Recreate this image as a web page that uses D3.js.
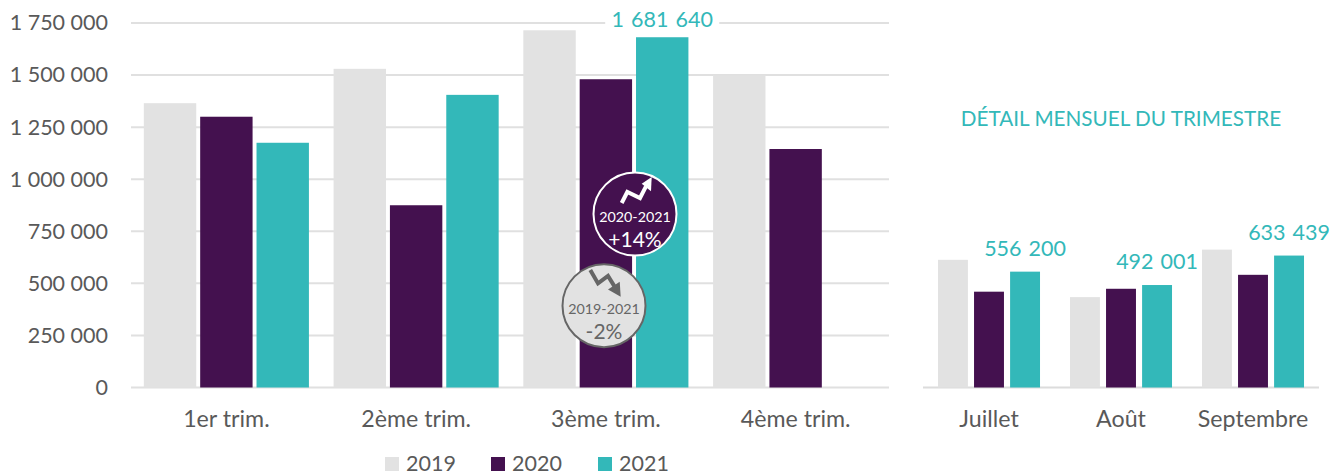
<!DOCTYPE html>
<html>
<head>
<meta charset="utf-8">
<title>Trimestres</title>
<style>
body { margin: 0; background: #fff; }
svg { display: block; font-family: Lato, "Open Sans", sans-serif; }
.axis path, .axis line { display: none; }
.axis text { fill: #595959; font-size: 23.2px; font-family: Lato, "Open Sans", sans-serif; }
.axis.yaxis text { font-size: 21.5px; }
.grid line { stroke: #e0e0e0; stroke-width: 2px; }
.baseline { stroke: #dcdcdc; stroke-width: 2px; }
.val { fill: #33b8b9; font-size: 21.5px; text-anchor: middle; word-spacing: 1.5px; }
</style>
</head>
<body>
<svg width="1330" height="473"></svg>
<script src="https://d3js.org/d3.v7.min.js"></script>
<script>
var years = ["2019", "2020", "2021"];
var colors = ["#e2e2e2", "#44114f", "#33b8b9"];

var quarters = ["1er trim.", "2ème trim.", "3ème trim.", "4ème trim."];
var q2019 = [1365000, 1530000, 1715000, 1500000];
var q2020 = [1300000, 875000, 1480000, 1145000];
var q2021 = [1175000, 1405000, 1681640, null];

var months = ["Juillet", "Août", "Septembre"];
var m2019 = [613000, 434000, 662000];
var m2020 = [460000, 474000, 541000];
var m2021 = [556200, 492001, 633439];

var yTicks = [0, 250000, 500000, 750000, 1000000, 1250000, 1500000, 1750000];

var svg = d3.select("svg");
var fr = d3.formatLocale({decimal: ",", thousands: " ", grouping: [3], currency: ["", " €"]});
var fmt = fr.format(",d");
var color = d3.scaleOrdinal().domain(years).range(colors);

// same y scale for both panels
var y = d3.scaleLinear().domain([0, 1750000]).range([387.5, 23]);

function drawBars(x0, series, inner, labelGap, labelled) {
  var x1 = d3.scaleBand().domain(years).range([0, x0.bandwidth()]).paddingInner(inner);

  var rows = x0.domain().map(function(c, i) {
    return {cat: c, vals: years.map(function(yr, j) { return {year: yr, value: series[j][i]}; })};
  });

  var grp = svg.append("g").selectAll("g")
    .data(rows)
    .enter().append("g")
      .attr("transform", function(d) { return "translate(" + x0(d.cat) + ",0)"; });

  grp.selectAll("rect")
    .data(function(d) { return d.vals.filter(function(v) { return v.value != null; }); })
    .enter().append("rect")
      .attr("x", function(d) { return x1(d.year); })
      .attr("y", function(d) { return y(d.value); })
      .attr("width", x1.bandwidth())
      .attr("height", function(d) { return y(0) - y(d.value); })
      .attr("fill", function(d) { return color(d.year); });

  // white box behind the label breaks the gridline, as in the original
  var labels = grp.selectAll("g.lab")
    .data(function(d) { return d.vals.filter(function(v) { return labelled(d.cat, v); }); })
    .enter().append("g")
      .attr("class", "lab")
      .attr("transform", function(d) {
        return "translate(" + (x1(d.year) + x1.bandwidth() / 2) + "," + (y(d.value) - labelGap) + ")";
      });

  var txt = labels.append("text")
    .attr("class", "val")
    .text(function(d) { return fmt(d.value); });

  labels.insert("rect", "text")
    .attr("x", -57)
    .attr("y", -20)
    .attr("width", 114)
    .attr("height", 26)
    .attr("fill", "#fff");

  svg.append("g")
    .attr("class", "axis")
    .attr("transform", "translate(0,387.5)")
    .call(d3.axisBottom(x0).tickSize(0).tickPadding(23));
}

// left panel
var xQ = d3.scaleBand().domain(quarters).range([131.5, 890.5]).paddingInner(0.13).paddingOuter(0.065);

svg.append("g")
  .attr("class", "grid")
  .selectAll("line")
  .data(yTicks)
  .enter().append("line")
    .attr("x1", 131)
    .attr("x2", 889)
    .attr("y1", function(d) { return y(d); })
    .attr("y2", function(d) { return y(d); });

svg.append("g")
  .attr("class", "axis yaxis")
  .attr("transform", "translate(108,0)")
  .call(d3.axisLeft(y).tickValues(yTicks).tickFormat(fmt).tickSize(0).tickPadding(0));

drawBars(xQ, [q2019, q2020, q2021], 0.07, 10, function(c, v) {
  return c === "3ème trim." && v.year === "2021";
});

// right panel
var xM = d3.scaleBand().domain(months).range([923, 1319]).paddingInner(0.227).paddingOuter(0.1135);

svg.append("line")
  .attr("class", "baseline")
  .attr("x1", 923).attr("x2", 1319)
  .attr("y1", y(0)).attr("y2", y(0));

drawBars(xM, [m2019, m2020, m2021], 0.17, 16, function(c, v) { return v.year === "2021"; });

svg.append("text")
  .attr("x", 1121)
  .attr("y", 125.5)
  .attr("text-anchor", "middle")
  .attr("fill", "#33b8b9")
  .attr("font-size", 20.7)
  .text("DÉTAIL MENSUEL DU TRIMESTRE");

// badges over the third quarter
function badge(cx, cy, opt) {
  var b = svg.append("g").attr("transform", "translate(" + cx + "," + cy + ")");
  b.append("circle").attr("r", 41.5).attr("fill", opt.fill).attr("stroke", opt.stroke).attr("stroke-width", 2);
  b.append("path").attr("d", d3.line()(opt.shaft)).attr("fill", "none").attr("stroke", opt.ink).attr("stroke-width", 4);
  b.append("path").attr("d", d3.line()(opt.head) + "Z").attr("fill", opt.ink);
  b.append("text").attr("y", 8).attr("text-anchor", "middle").attr("fill", opt.ink).attr("font-size", 14.3).text(opt.period);
  b.append("text").attr("y", 33).attr("text-anchor", "middle").attr("fill", opt.ink).attr("font-size", 21).text(opt.change);
}

badge(635, 214, {
  fill: "#44114f", stroke: "#fff", ink: "#fff",
  shaft: [[-13.3, -11], [-7.7, -22], [5, -16], [11, -27.7]],
  head: [[16.7, -37], [6.7, -30.3], [16, -22.7]],
  period: "2020-2021", change: "+14%"
});
badge(604, 305.7, {
  fill: "#e2e2e2", stroke: "#666", ink: "#666",
  shaft: [[-13.7, -35.7], [-6, -22.3], [4, -29.7], [11.7, -17.3]],
  head: [[16.7, -9], [4, -16.3], [15.7, -24]],
  period: "2019-2021", change: "-2%"
});

// legend
var legendX = [385, 491, 598];
var legend = svg.append("g").selectAll("g")
  .data(years)
  .enter().append("g")
    .attr("transform", function(d, i) { return "translate(" + legendX[i] + ",457)"; });

legend.append("rect")
  .attr("width", 14)
  .attr("height", 14)
  .attr("fill", function(d) { return color(d); });

legend.append("text")
  .attr("x", 21)
  .attr("y", 14)
  .attr("fill", "#595959")
  .attr("font-size", 21.5)
  .text(function(d) { return d; });
</script>
</body>
</html>
